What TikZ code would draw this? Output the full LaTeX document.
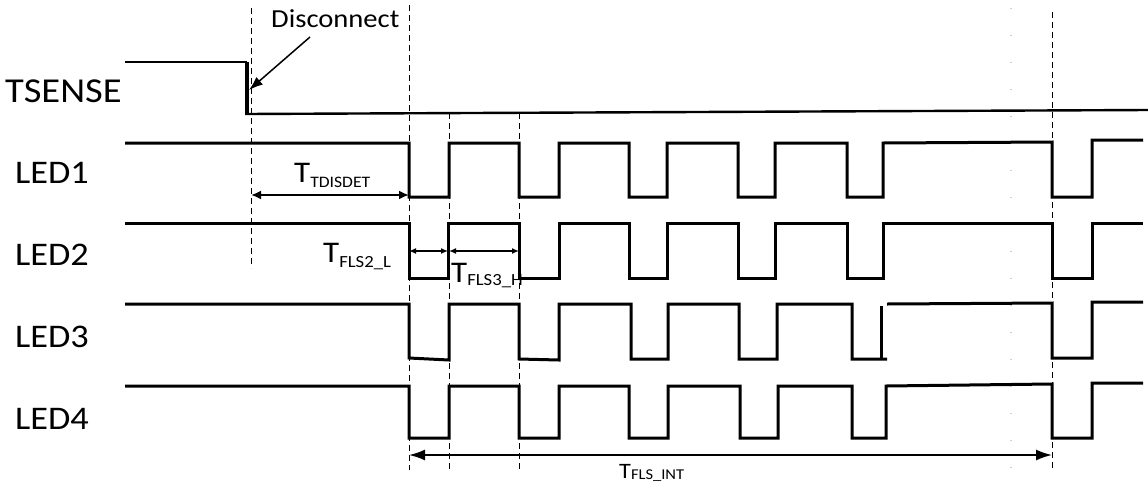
\documentclass[tikz,border=0pt]{standalone}
\usepackage{fontspec}
\setmainfont{Carlito}[FakeStretch=1.1]
\usetikzlibrary{arrows.meta}
\newcommand{\fsz}[1]{\fontsize{#1}{#1}\selectfont}
% \Tlab{T size}{sub size}{drop}{sub text}
\newcommand{\Tlab}[4]{{\fsz{#1}T}{\fsz{#2}\raisebox{-#3}{#4}}}
\begin{document}
\begin{tikzpicture}[x=1pt,y=-1pt,
  sig/.style={line width=3pt,line join=miter},
  thinsig/.style={line width=2.4pt},
  dline/.style={line width=1pt,dash pattern=on 6pt off 4pt},
  dim/.style={line width=2pt,{Latex[length=10pt,width=9pt]}-{Latex[length=10pt,width=9pt]}},
  smalldim/.style={line width=1.6pt,{Latex[length=7pt,width=6pt]}-{Latex[length=7pt,width=6pt]}},
  bigdim/.style={line width=1.8pt,{Latex[length=16pt,width=11pt]}-{Latex[length=16pt,width=11pt]}},
  lab/.style={inner sep=0pt,anchor=base west},
  sigfont/.style={font=\fsz{33}},
]
\useasboundingbox (0,0) rectangle (1148,488);
\fill[white] (0,0) rectangle (1148,488);

% faint dotted guide
\draw[black!18,line width=1.2pt,dash pattern=on 1.2pt off 25.8pt] (1011,8) -- (1011,470);

% dashed guides
\coordinate (d1t) at (251,8);   \coordinate (d1b) at (251,268);
\coordinate (d2t) at (409,5);   \coordinate (d2b) at (409,470);
\coordinate (d3t) at (449,113); \coordinate (d3b) at (449,470);
\coordinate (d4t) at (519,113); \coordinate (d4b) at (519,470);
\coordinate (d5t) at (1052,12); \coordinate (d5b) at (1052,470);
\draw[dline] (d1t) -- (d1b);
\draw[dline] (d2t) -- (d2b);
\draw[dline] (d3t) -- (d3b);
\draw[dline] (d4t) -- (d4b);
\draw[dline] (d5t) -- (d5b);

% labels
\node[lab,font=\fsz{35}] (tsense) at (5,102) {TSENSE};
\node[lab,sigfont] (led1) at (15,183) {LED1};
\node[lab,sigfont] (led2) at (15,265) {LED2};
\node[lab,sigfont] (led3) at (15,347) {LED3};
\node[lab,sigfont] (led4) at (15,429) {LED4};
\node[lab,font=\fsz{26}] (disc) at (271,27) {Disconnect};

% TSENSE
\draw[thinsig] (125,62) -- (247,62);
\draw[line width=4pt] (247,62) -- (247,115);
\draw[thinsig] (245,114) -- (1148,110);

% LED1
\draw[sig] (125,143) -- (409,143) -- (409,197) -- (449,197) -- (449,143) -- (519,143)
  -- (519,197) -- (559,197) -- (559,143) -- (629,143) -- (629,197) -- (667,197)
  -- (667,143) -- (738,143) -- (738,197) -- (775,197) -- (775,143) -- (847,143)
  -- (847,197) -- (883,197) -- (883,143) -- (1052,142) -- (1052,197) -- (1092,197)
  -- (1092,140) -- (1143,140);

% LED2
\draw[sig] (125,223) -- (409,223) -- (409,278) -- (448,278) -- (448,223) -- (519,223)
  -- (519,278) -- (559,278) -- (559,223) -- (629,223) -- (629,278) -- (667,278)
  -- (667,223) -- (738,223) -- (738,278) -- (775,278) -- (775,223) -- (847,223)
  -- (847,278) -- (883,278) -- (883,223) -- (1052,223) -- (1052,278) -- (1092,278)
  -- (1092,223) -- (1143,223);

% LED3
\draw[sig] (125,304) -- (409,304) -- (409,358) -- (449,360) -- (449,304) -- (519,304)
  -- (519,359) -- (559,360) -- (559,304) -- (631,304) -- (631,359) -- (668,359)
  -- (668,304) -- (739,304) -- (739,359) -- (777,359) -- (777,304) -- (852,304)
  -- (852,359) -- (887,359);
\draw[sig] (881,359) -- (881,306);
\draw[sig] (887,304) -- (1052,303) -- (1052,358) -- (1092,358) -- (1092,302) -- (1143,302);

% LED4
\draw[sig] (125,386) -- (409,386) -- (409,438) -- (449,438) -- (449,386) -- (519,386)
  -- (519,438) -- (559,438) -- (559,386) -- (629,386) -- (629,438) -- (668,438)
  -- (668,386) -- (740,386) -- (740,438) -- (778,438) -- (778,386) -- (852,386)
  -- (852,438) -- (886,438) -- (886,386) -- (1052,384) -- (1052,438) -- (1092,438)
  -- (1092,383) -- (1143,383);

% Disconnect arrow
\coordinate (dsA) at (310,37);
\coordinate (dsB) at (249,90);
\draw[line width=1.5pt,-{Latex[length=14pt,width=10pt]}] (dsA) -- (dsB);

% dimension arrows
\coordinate (tdA) at (251,195); \coordinate (tdB) at (409,195);
\draw[dim] (tdA) -- (tdB);
\node[lab] (tdis) at (294,182) {\Tlab{30}{16}{5pt}{TDISDET}};

\coordinate (f2A) at (409,251); \coordinate (f2B) at (448,251);
\draw[smalldim] (f2A) -- (f2B);
\node[lab] (tfls2) at (323,262) {\Tlab{30}{17}{5pt}{FLS2\_L}};

\coordinate (f3A) at (449,251); \coordinate (f3B) at (519,251);
\draw[smalldim] (f3A) -- (f3B);
\node[lab] (tfls3) at (451,282) {\Tlab{30}{17}{3pt}{FLS3\_H}};

\coordinate (fiA) at (409,455); \coordinate (fiB) at (1052,455);
\draw[bigdim] (fiA) -- (fiB);
\node[lab] (tint) at (619,478) {\Tlab{22}{15}{1pt}{FLS\_INT}};
\end{tikzpicture}
\end{document}
